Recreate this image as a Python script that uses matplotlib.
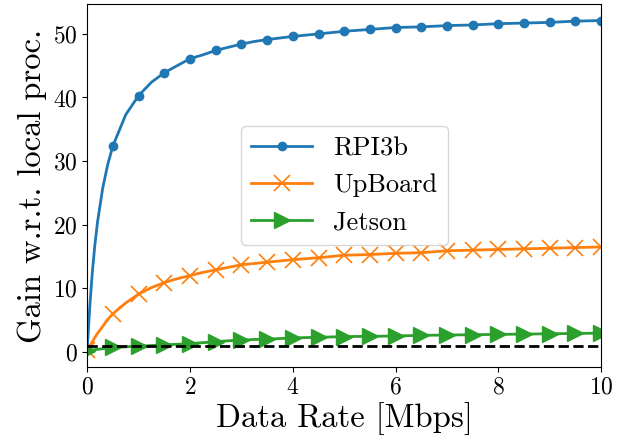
import numpy as np
import matplotlib
matplotlib.use("Agg")
import matplotlib.pyplot as plt

# ----------------------------
# Data
# ----------------------------
rate = [0.0, 0.05, 0.1, 0.15, 0.2, 0.3, 0.4, 0.5, 0.75, 1.0, 1.25, 1.5, 1.75,
        2.0, 2.25, 2.5, 2.75, 3.0, 3.25, 3.5, 4.0, 4.5, 5.0,
        5.5, 6.0, 6.5, 7.0, 7.5, 8.0, 8.5, 9.0, 9.5, 10.0]
rpi3b = [0.5, 7.1, 12.6, 16.9, 20.4, 25.7, 29.5, 32.4, 37.3, 40.3, 42.4, 43.9, 45.0,
         46.1, 46.7, 47.4, 47.9, 48.4, 48.8, 49.1, 49.6, 50.0, 50.4,
         50.7, 51.0, 51.1, 51.3, 51.4, 51.6, 51.7, 51.8, 52.0, 52.1]
upboard = [0.3, 0.9, 1.6, 2.3, 2.9, 4.0, 5.1, 6.0, 7.7, 9.1, 10.1, 10.9, 11.5,
           12.0, 12.5, 12.9, 13.3, 13.7, 13.9, 14.1, 14.5, 14.8, 15.2,
           15.3, 15.5, 15.6, 15.9, 16.0, 16.1, 16.2, 16.3, 16.4, 16.5]
jetson = [0.2, 0.25, 0.3, 0.35, 0.4, 0.5, 0.6, 0.7, 0.8, 0.9, 1.0, 1.1, 1.2,
          1.3, 1.45, 1.6, 1.75, 1.85, 1.95, 2.0, 2.2, 2.3, 2.4,
          2.45, 2.5, 2.6, 2.65, 2.7, 2.75, 2.8, 2.85, 2.9, 2.95]
baseline = 1.0

# markers only on the 0.5 Mbps grid
marks = [i for i, r in enumerate(rate) if (r * 2) % 1 == 0]

# ----------------------------
# Style
# ----------------------------
plt.rcParams["font.family"] = "cmr10"
plt.rcParams["mathtext.fontset"] = "cm"
plt.rcParams["axes.formatter.use_mathtext"] = True

fig, ax = plt.subplots(figsize=(6.23, 4.45), dpi=100)
fig.subplots_adjust(left=0.14, right=0.965, top=0.991, bottom=0.175)

ax.plot(rate, rpi3b, marker="o", markersize=6, lw=2, markevery=marks,
        color="tab:blue", label="RPI3b")
ax.plot(rate, upboard, marker="x", markersize=12, mew=1.2, lw=2, markevery=marks,
        color="tab:orange", label="UpBoard")
ax.plot(rate, jetson, marker=">", markersize=12, lw=2, markevery=marks,
        color="tab:green", label="Jetson")
ax.axhline(baseline, color="black", ls="--", lw=2)

ax.set_xlim(0, 10)
ax.set_xticks([0, 2, 4, 6, 8, 10])
ax.set_yticks([0, 10, 20, 30, 40, 50])
ax.tick_params(labelsize=17)
ax.set_xlabel("Data Rate [Mbps]", fontsize=23.5, labelpad=2)
ax.set_ylabel("Gain w.r.t. local proc.", fontsize=23.5, labelpad=4)
ax.legend(loc="center", fontsize=19, handlelength=2.3)

plt.savefig("out.png", dpi=100)
